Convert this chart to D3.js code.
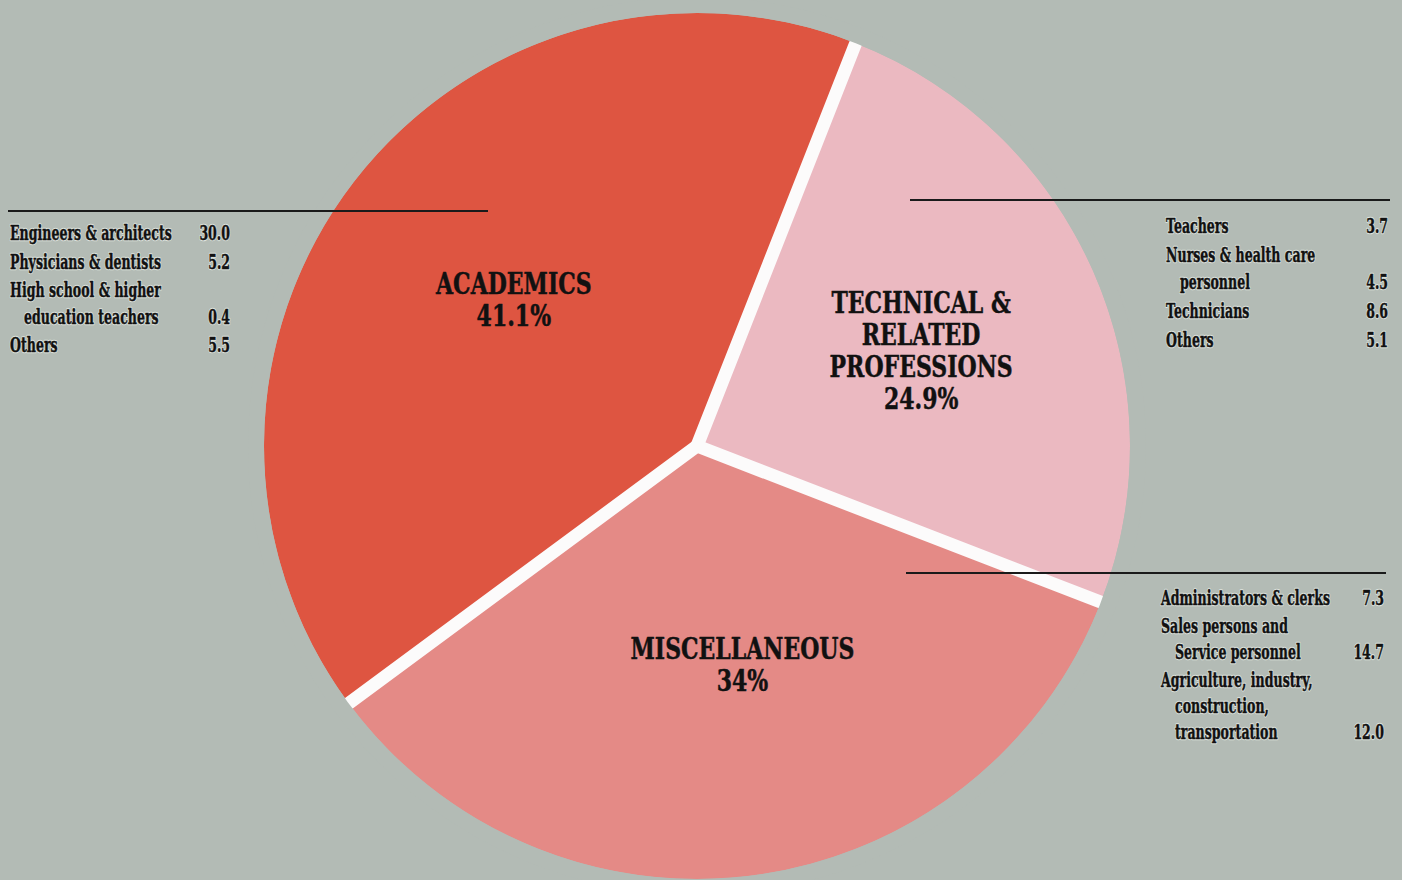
<!DOCTYPE html>
<meta charset="utf-8">
<script src="https://d3js.org/d3.v7.min.js"></script>
<style>
  body { margin: 0; background: #b3bbb5; }
  text { font-family: "DejaVu Serif", "Liberation Serif", serif; font-weight: bold; fill: #111; }
  .halo { stroke: #dfe4df; stroke-width: 2.4px; stroke-linejoin: round; }
  .ink { stroke: #111; stroke-width: 0.5px; stroke-linejoin: round; }
</style>
<div id="chart"></div>
<script>

// main categories, clockwise from the top
var categories = ["TECHNICAL & RELATED PROFESSIONS", "MISCELLANEOUS", "ACADEMICS"];
var shares = [24.9, 34, 41.1];
var shareLabels = ["24.9%", "34%", "41.1%"];
var labelLines = [["TECHNICAL &", "RELATED", "PROFESSIONS"], ["MISCELLANEOUS"], ["ACADEMICS"]];
var colors = ["#ebb9c1", "#e48a86", "#de5541"];

// breakdowns
var academicsItems = [["Engineers & architects"], ["Physicians & dentists"], ["High school & higher", "  education teachers"], ["Others"]];
var academicsValues = ["30.0", "5.2", "0.4", "5.5"];
var technicalItems = [["Teachers"], ["Nurses & health care", "  personnel"], ["Technicians"], ["Others"]];
var technicalValues = ["3.7", "4.5", "8.6", "5.1"];
var miscItems = [["Administrators & clerks"], ["Sales persons and", "  Service personnel"], ["Agriculture, industry,", "  construction,", "  transportation"]];
var miscValues = ["7.3", "14.7", "12.0"];

var width = 1402, height = 880;
var cx = 697, cy = 446, radius = 433;
var bg = "#b3bbb5";

var svg = d3.select("#chart")
  .append("svg")
    .attr("width", width)
    .attr("height", height);

svg.append("rect")
  .attr("width", width).attr("height", height)
  .attr("fill", bg);

// condense a font so a sample string gets a given width
function condense(size, sample, target) {
  var t = svg.append("text").style("font-size", size + "px").text(sample);
  var w = t.node().getComputedTextLength();
  t.remove();
  return target / w;
}

var deg = Math.PI / 180;
var pie = d3.pie()
  .sort(null)
  .startAngle(21.5 * deg)
  .endAngle(381.5 * deg);

var arc = d3.arc()
  .innerRadius(0)
  .outerRadius(radius);

var g = svg.append("g")
  .attr("transform", "translate(" + cx + "," + cy + ")");

var arcs = pie(shares);

g.selectAll("path.slice")
  .data(arcs)
  .enter()
  .append("path")
    .attr("class", "slice")
    .attr("d", arc)
    .attr("fill", function(d, i) { return colors[i]; });

// white bands between slices
g.selectAll("line.sep")
  .data(arcs)
  .enter()
  .append("line")
    .attr("x1", 0).attr("y1", 0)
    .attr("x2", function(d) { return Math.sin(d.startAngle) * (radius - 1); })
    .attr("y2", function(d) { return -Math.cos(d.startAngle) * (radius - 1); })
    .attr("stroke", "#fcfbfb")
    .attr("stroke-width", 13)
    .attr("stroke-linecap", "round");

// cover the round caps that poke past the rim
g.append("circle")
  .attr("r", radius + 8)
  .attr("fill", "none")
  .attr("stroke", bg)
  .attr("stroke-width", 16);

// slice labels
var labelArc = d3.arc().innerRadius(236).outerRadius(236);
var labelNudge = [[8, -1], [14, -15], [4, -3]];
var bigSize = 29, bigLead = 32;
var bigScale = condense(bigSize, "MISCELLANEOUS", 224);
arcs.forEach(function(d, i) {
  var c = labelArc.centroid(d);
  c[0] += labelNudge[i][0];
  c[1] += labelNudge[i][1];
  var lines = labelLines[i].concat([shareLabels[i]]);
  var top = c[1] - (lines.length - 1) * bigLead / 2 + bigSize * 0.36;
  lines.forEach(function(t, j) {
    g.append("text")
      .attr("class", "ink")
      .attr("transform", "translate(" + c[0] + "," + (top + j * bigLead) + ") scale(" + bigScale + ",1)")
      .attr("text-anchor", "middle")
      .style("font-size", bigSize + "px")
      .text(t);
  });
});

// leader lines
var leaders = [
  {x1: 8, x2: 488, y: 211},
  {x1: 910, x2: 1390, y: 200},
  {x1: 906, x2: 1386, y: 573}
];
svg.selectAll("line.leader")
  .data(leaders)
  .enter()
  .append("line")
    .attr("x1", function(d) { return d.x1; })
    .attr("x2", function(d) { return d.x2; })
    .attr("y1", function(d) { return d.y; })
    .attr("y2", function(d) { return d.y; })
    .attr("stroke", "#1a1a1a")
    .attr("stroke-width", 1.8);

// breakdown tables
var smallSize = 21;
var sx = condense(smallSize, "Engineers & architects", 162);
function label(x, y, t, anchor) {
  ["halo", "ink"].forEach(function(cls) {
    svg.append("text")
      .attr("class", cls)
      .attr("transform", "translate(" + x + "," + y + ") scale(" + sx + ",1)")
      .attr("text-anchor", anchor)
      .style("font-size", smallSize + "px")
      .text(t);
  });
}
function table(items, values, x, xr, y0, lead) {
  var y = y0;
  items.forEach(function(lines, i) {
    lines.forEach(function(t, j) {
      var indent = t.startsWith("  ") ? 14 : 0;
      label(x + indent, y, t.trim(), "start");
      if (j === lines.length - 1) label(xr, y, values[i], "end");
      y += (j === lines.length - 1) ? lead : lead - 2;
    });
  });
}

table(academicsItems, academicsValues, 10, 230, 240, 28.5);
table(technicalItems, technicalValues, 1166, 1388, 233, 29);
table(miscItems, miscValues, 1161, 1384, 605, 28);

</script>
